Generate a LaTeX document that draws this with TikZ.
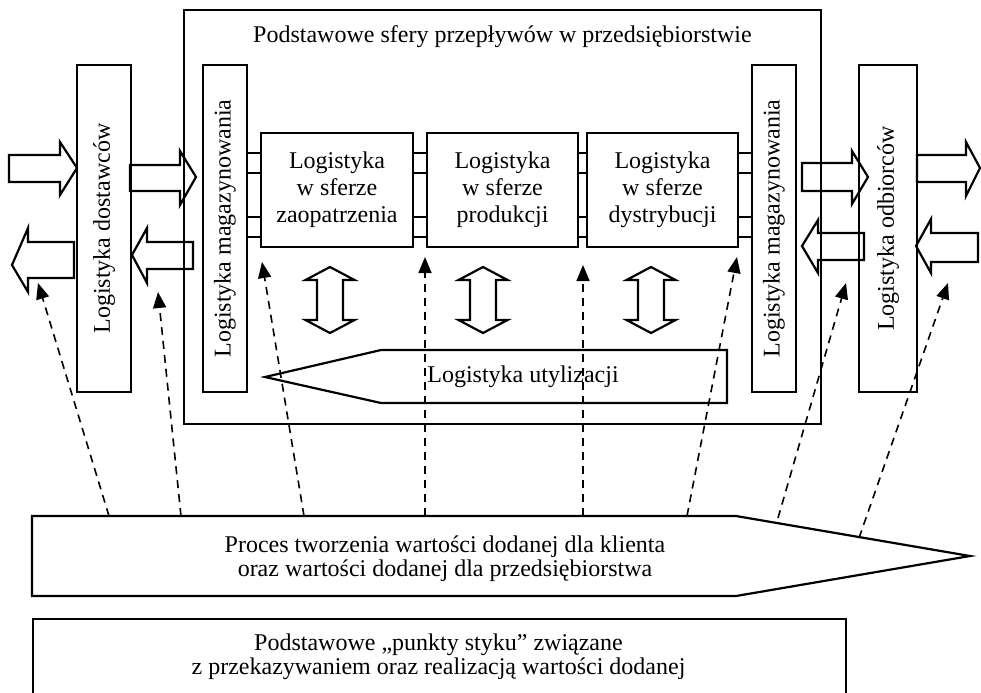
\documentclass[tikz,border=0pt]{standalone}
\usepackage{fontspec}
\setmainfont{Liberation Serif}
\usetikzlibrary{arrows.meta}

\begin{document}
\begin{tikzpicture}[x=0.5pt,y=-0.5pt,line width=1.1pt,font=\fontsize{12}{13.5}\selectfont]
	\tikzstyle{tall}=[draw,rotate=90,minimum width=163.5pt,inner sep=0pt]
	\tikzstyle{sfera}=[draw,align=center,minimum width=76pt,minimum height=57pt,inner sep=0pt]
	\tikzstyle{pointer}=[line width=0.8pt,dash pattern=on 4pt off 3pt,-{Triangle[length=8pt,width=6.5pt]}]
	\useasboundingbox (0,0) rectangle (981,692);
	% enterprise frame
	\node[draw,minimum width=318.5pt,minimum height=207pt,inner sep=0pt] (e) at (502.5,217) {};
	\node (t) at (502.5,37) {Podstawowe sfery przepływów w przedsiębiorstwie};
	% tall boxes
	\node[tall,minimum height=27pt] (d) at (104,228.5) {Logistyka dostawców};
	\node[tall,minimum height=22pt] (m1) at (225,228.5) {Logistyka magazynowania};
	\node[tall,minimum height=22pt] (m2) at (774,228.5) {Logistyka magazynowania};
	\node[tall,minimum height=29pt] (o) at (888,228.5) {Logistyka odbiorców};
	% three spheres
	\node[sfera] (z) at (337,190) {Logistyka\\w sferze\\zaopatrzenia};
	\node[sfera,minimum width=75.5pt] (p) at (502.5,190) {Logistyka\\w sferze\\produkcji};
	\node[sfera,minimum width=75.5pt] (r) at (662.5,190) {Logistyka\\w sferze\\dystrybucji};
	% ticks
	\draw (m1.south |- 0,153) -- (z.west |- 0,153);
	\draw (m1.south |- 0,173) -- (z.west |- 0,173);
	\draw (m1.south |- 0,217) -- (z.west |- 0,217);
	\draw (m1.south |- 0,237) -- (z.west |- 0,237);
	\draw (z.east |- 0,153) -- (p.west |- 0,153);
	\draw (z.east |- 0,173) -- (p.west |- 0,173);
	\draw (z.east |- 0,217) -- (p.west |- 0,217);
	\draw (z.east |- 0,237) -- (p.west |- 0,237);
	\draw (p.east |- 0,153) -- (r.west |- 0,153);
	\draw (p.east |- 0,173) -- (r.west |- 0,173);
	\draw (p.east |- 0,217) -- (r.west |- 0,217);
	\draw (p.east |- 0,237) -- (r.west |- 0,237);
	\draw (r.east |- 0,153) -- (m2.north |- 0,153);
	\draw (r.east |- 0,173) -- (m2.north |- 0,173);
	\draw (r.east |- 0,217) -- (m2.north |- 0,217);
	\draw (r.east |- 0,237) -- (m2.north |- 0,237);
	% block arrows
	\draw (9,155) -- (60,155) -- (60,142) -- (77,168) -- (60,195) -- (60,182) -- (9,182) -- cycle;
	\draw (74,242) -- (28,242) -- (28,228) -- (12,265) -- (28,292) -- (28,278) -- (74,278) -- cycle;
	\draw (130,165) -- (180,165) -- (180,151) -- (196,177) -- (180,205) -- (180,191) -- (130,191) -- cycle;
	\draw (193,242) -- (147,242) -- (147,228) -- (132,255) -- (147,283) -- (147,269) -- (193,269) -- cycle;
	\draw (802,163) -- (852,163) -- (852,151) -- (868,177) -- (852,204) -- (852,191) -- (802,191) -- cycle;
	\draw (864,233) -- (818,233) -- (818,220) -- (802,246) -- (818,273) -- (818,260) -- (864,260) -- cycle;
	\draw (917,155) -- (966,155) -- (966,142) -- (980,168) -- (966,196) -- (966,182) -- (917,182) -- cycle;
	\draw (978,233) -- (931,233) -- (931,219) -- (916,246) -- (931,273) -- (931,262) -- (978,262) -- cycle;
	% double arrows
	\draw (330,267) -- (354.5,280) -- (343,280) -- (343,320) -- (354.5,320) -- (330,333) -- (305.5,320) -- (317,320) -- (317,280) -- (305.5,280) -- cycle;
	\draw (483,267) -- (507.5,280) -- (496,280) -- (496,320) -- (507.5,320) -- (483,333) -- (458.5,320) -- (470,320) -- (470,280) -- (458.5,280) -- cycle;
	\draw (651,267) -- (675.5,280) -- (664,280) -- (664,320) -- (675.5,320) -- (651,333) -- (626.5,320) -- (638,320) -- (638,280) -- (626.5,280) -- cycle;
	% utilisation
	\draw (727,350) -- (381,350) -- (265,377) -- (381,403) -- (727,403) -- cycle;
	\node (u) at (523,377) {Logistyka utylizacji};
	% value added process
	\draw (32,516) -- (736,516) -- (970,556) -- (736,596) -- (32,596) -- cycle;
	\node[align=center,font=\fontsize{12}{12}\selectfont] (w) at (445,559) {Proces tworzenia wartości dodanej dla klienta\\oraz wartości dodanej dla przedsiębiorstwa};
	% contact points
	\node[draw,anchor=north west,minimum width=406.5pt,minimum height=45pt] (k) at (32,618) {};
	\node[align=center,font=\fontsize{12}{12}\selectfont] (kt) at (438.5,657) {Podstawowe „punkty styku” związane\\z przekazywaniem oraz realizacją wartości dodanej};
	% dashed arrows
	\coordinate (s1) at (109,516); \coordinate (t1) at (38,283);
	\coordinate (s2) at (181,516); \coordinate (t2) at (158,292);
	\coordinate (s3) at (304,516); \coordinate (t3) at (262,262);
	\coordinate (s4) at (425,516); \coordinate (t4) at (425,257);
	\coordinate (s5) at (583,516); \coordinate (t5) at (583,265);
	\coordinate (s6) at (687,516); \coordinate (t6) at (737,257);
	\coordinate (s7) at (778,518); \coordinate (t7) at (846,283);
	\coordinate (s8) at (859,538); \coordinate (t8) at (948,283);
	\draw[pointer] (s1) -- (t1);
	\draw[pointer] (s2) -- (t2);
	\draw[pointer] (s3) -- (t3);
	\draw[pointer] (s4) -- (t4);
	\draw[pointer] (s5) -- (t5);
	\draw[pointer] (s6) -- (t6);
	\draw[pointer] (s7) -- (t7);
	\draw[pointer] (s8) -- (t8);
\end{tikzpicture}
\end{document}
